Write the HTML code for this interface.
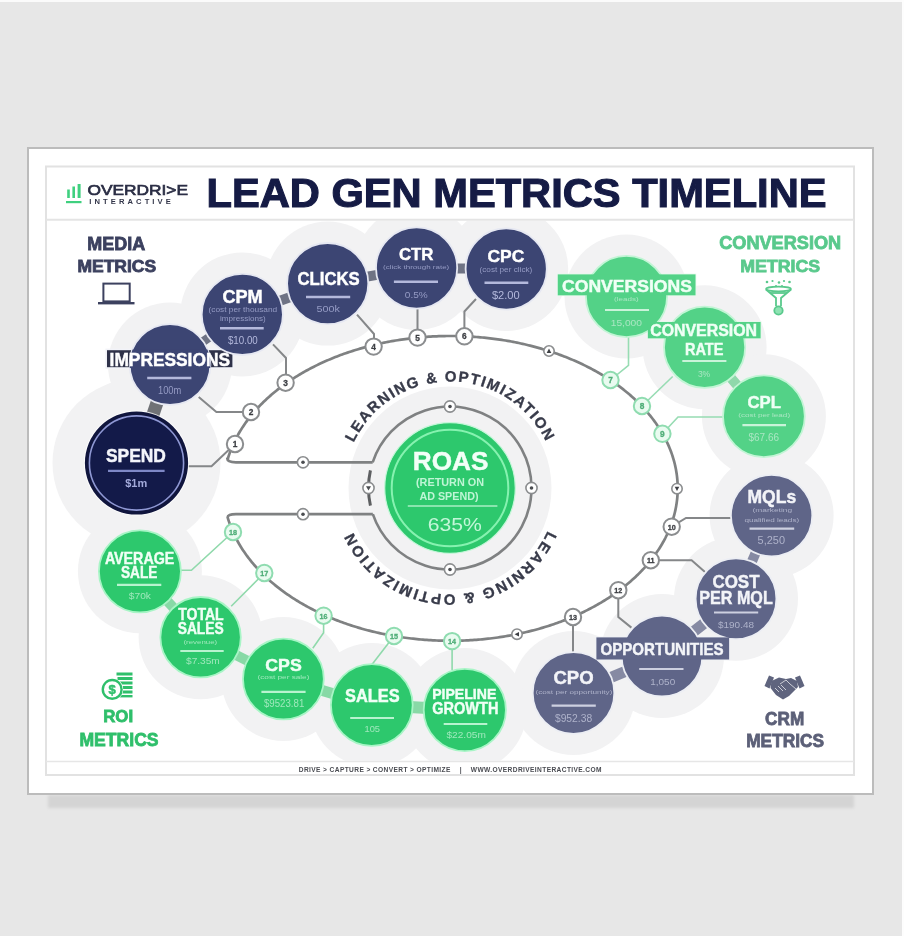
<!DOCTYPE html><html><head><meta charset="utf-8"><style>html,body{margin:0;padding:0;width:904px;height:936px;overflow:hidden;background:#e7e7e7}svg{filter:blur(0.45px)}svg text{font-family:"Liberation Sans",sans-serif}</style></head><body><svg width="904" height="936" viewBox="0 0 904 936" style="position:absolute;left:0;top:0">
<defs><filter id="blur1" x="-5%" y="-50%" width="110%" height="200%"><feGaussianBlur stdDeviation="1.5"/></filter><clipPath id="diag"><rect x="47" y="221" width="806" height="540"/></clipPath></defs>
<rect x="0" y="0" width="904" height="936" fill="#e7e7e7"/>
<rect x="0" y="0" width="904" height="2" fill="#fbfbfb"/>
<rect x="902" y="0" width="2" height="936" fill="#fdfdfd"/>
<rect x="48" y="795" width="806" height="13" fill="#d4d4d4" filter="url(#blur1)"/>
<rect x="28" y="148" width="845" height="646" fill="#ffffff" stroke="#bcbcbc" stroke-width="2"/>
<rect x="46" y="166.5" width="808" height="608.5" fill="#ffffff" stroke="#e2e2e2" stroke-width="2"/>
<line x1="46" y1="219.8" x2="854" y2="219.8" stroke="#e4e4e4" stroke-width="2"/>
<line x1="46" y1="761.5" x2="854" y2="761.5" stroke="#e6e6e6" stroke-width="1.5"/>
<g clip-path="url(#diag)" fill="#f2f2f3">
<circle cx="170" cy="364.5" r="62"/>
<circle cx="242.3" cy="314.4" r="62"/>
<circle cx="327.7" cy="283.6" r="62"/>
<circle cx="416.6" cy="268" r="62"/>
<circle cx="506.2" cy="269" r="62"/>
<circle cx="136.5" cy="463" r="84"/>
<circle cx="626.5" cy="296.5" r="62"/>
<circle cx="704.6" cy="347.3" r="62"/>
<circle cx="763.9" cy="416.3" r="62"/>
<circle cx="771.6" cy="515.6" r="62"/>
<circle cx="736" cy="598.8" r="62"/>
<circle cx="662" cy="656" r="62"/>
<circle cx="573.5" cy="693" r="62"/>
<circle cx="139.9" cy="571.3" r="62"/>
<circle cx="200.6" cy="637.2" r="62"/>
<circle cx="283.4" cy="679" r="62"/>
<circle cx="371.8" cy="705" r="62"/>
<circle cx="464.8" cy="710" r="62"/>
<circle cx="450" cy="488" r="101.5"/>
</g>
<line x1="152.0" y1="417.4" x2="158.1" y2="399.5" stroke="#707276" stroke-width="13"/>
<line x1="200.4" y1="343.4" x2="211.7" y2="335.6" stroke="#6f7384" stroke-width="9"/>
<line x1="277.3" y1="301.8" x2="292.7" y2="296.2" stroke="#6f7384" stroke-width="10"/>
<line x1="364.3" y1="277.2" x2="380.0" y2="274.4" stroke="#6f7384" stroke-width="10"/>
<line x1="453.8" y1="268.4" x2="469.0" y2="268.6" stroke="#6f7384" stroke-width="10"/>
<line x1="728.8" y1="375.5" x2="739.5" y2="387.9" stroke="#8fd8ab" stroke-width="10"/>
<line x1="756.9" y1="549.9" x2="750.6" y2="564.8" stroke="#868aa3" stroke-width="10"/>
<line x1="706.7" y1="621.4" x2="691.3" y2="633.4" stroke="#868aa3" stroke-width="11"/>
<line x1="627.9" y1="670.3" x2="608.0" y2="678.6" stroke="#868aa3" stroke-width="11"/>
<line x1="165.4" y1="599.0" x2="175.7" y2="610.1" stroke="#88d9a6" stroke-width="10"/>
<line x1="233.5" y1="653.8" x2="250.4" y2="662.3" stroke="#88d9a6" stroke-width="10"/>
<line x1="318.9" y1="689.4" x2="335.8" y2="694.4" stroke="#88d9a6" stroke-width="11"/>
<line x1="409.2" y1="707.0" x2="427.2" y2="708.0" stroke="#88d9a6" stroke-width="12"/>
<path d="M372.66,462.3 L236,462.3 Q227.3,462.3 227.3,458.6 L227.67,459.32 L228.06,458.02 L228.46,456.71 L228.88,455.41 L229.32,454.12 L229.77,452.82 L230.25,451.53 L230.73,450.24 L231.24,448.96 L231.76,447.67 L232.30,446.39 L232.85,445.12 L233.42,443.84 L234.01,442.57 L234.62,441.31 L235.24,440.04 L235.87,438.78 L236.53,437.53 L237.20,436.28 L237.88,435.03 L238.58,433.78 L239.30,432.55 L240.04,431.31 L240.79,430.08 L241.55,428.85 L242.34,427.63 L243.13,426.41 L243.95,425.20 L244.78,423.99 L245.62,422.79 L246.48,421.59 L247.36,420.40 L248.25,419.21 L249.16,418.03 L250.08,416.85 L251.02,415.68 L251.97,414.52 L252.94,413.35 L253.93,412.20 L254.92,411.05 L255.94,409.91 L256.97,408.77 L258.01,407.64 L259.07,406.52 L260.14,405.40 L261.22,404.28 L262.33,403.18 L263.44,402.08 L264.57,400.99 L265.71,399.90 L266.87,398.82 L268.04,397.75 L269.23,396.68 L270.43,395.62 L271.64,394.57 L272.87,393.53 L274.11,392.49 L275.36,391.46 L276.63,390.44 L277.91,389.42 L279.21,388.42 L280.51,387.42 L281.83,386.42 L283.16,385.44 L284.51,384.46 L285.87,383.49 L287.24,382.53 L288.62,381.58 L290.02,380.64 L291.42,379.70 L292.84,378.77 L294.27,377.85 L295.72,376.94 L297.17,376.04 L298.64,375.14 L300.12,374.26 L301.61,373.38 L303.11,372.51 L304.62,371.65 L306.15,370.80 L307.68,369.96 L309.23,369.13 L310.78,368.31 L312.35,367.49 L313.93,366.69 L315.52,365.89 L317.11,365.11 L318.72,364.33 L320.34,363.56 L321.97,362.80 L323.61,362.05 L325.26,361.32 L326.91,360.59 L328.58,359.87 L330.26,359.16 L331.94,358.46 L333.63,357.77 L335.34,357.09 L337.05,356.42 L338.77,355.76 L340.50,355.11 L342.24,354.47 L343.98,353.84 L345.74,353.22 L347.50,352.61 L349.27,352.01 L351.05,351.42 L352.83,350.85 L354.62,350.28 L356.42,349.72 L358.23,349.18 L360.04,348.64 L361.86,348.12 L363.69,347.60 L365.53,347.10 L367.37,346.60 L369.21,346.12 L371.07,345.65 L372.93,345.19 L374.79,344.74 L376.66,344.30 L378.54,343.88 L380.42,343.46 L382.31,343.05 L384.20,342.66 L386.10,342.28 L388.00,341.90 L389.91,341.54 L391.82,341.19 L393.74,340.85 L395.66,340.53 L397.58,340.21 L399.51,339.91 L401.45,339.61 L403.38,339.33 L405.32,339.06 L407.27,338.80 L409.21,338.55 L411.16,338.32 L413.12,338.09 L415.07,337.88 L417.03,337.67 L418.99,337.48 L420.96,337.30 L422.92,337.14 L424.89,336.98 L426.86,336.83 L428.83,336.70 L430.81,336.58 L432.78,336.47 L434.76,336.37 L436.74,336.28 L438.71,336.21 L440.69,336.15 L442.67,336.09 L444.66,336.05 L446.64,336.02 L448.62,336.01 L450.60,336.00 L452.58,336.01 L454.56,336.02 L456.54,336.05 L458.53,336.09 L460.51,336.15 L462.49,336.21 L464.46,336.28 L466.44,336.37 L468.42,336.47 L470.39,336.58 L472.37,336.70 L474.34,336.83 L476.31,336.98 L478.28,337.14 L480.24,337.30 L482.21,337.48 L484.17,337.67 L486.13,337.88 L488.08,338.09 L490.04,338.32 L491.99,338.55 L493.93,338.80 L495.88,339.06 L497.82,339.33 L499.75,339.61 L501.69,339.91 L503.62,340.21 L505.54,340.53 L507.46,340.85 L509.38,341.19 L511.29,341.54 L513.20,341.90 L515.10,342.28 L517.00,342.66 L518.89,343.05 L520.78,343.46 L522.66,343.88 L524.54,344.30 L526.41,344.74 L528.27,345.19 L530.13,345.65 L531.99,346.12 L533.83,346.60 L535.67,347.10 L537.51,347.60 L539.34,348.12 L541.16,348.64 L542.97,349.18 L544.78,349.72 L546.58,350.28 L548.37,350.85 L550.15,351.42 L551.93,352.01 L553.70,352.61 L555.46,353.22 L557.22,353.84 L558.96,354.47 L560.70,355.11 L562.43,355.76 L564.15,356.42 L565.86,357.09 L567.57,357.77 L569.26,358.46 L570.94,359.16 L572.62,359.87 L574.29,360.59 L575.94,361.32 L577.59,362.05 L579.23,362.80 L580.86,363.56 L582.48,364.33 L584.09,365.11 L585.68,365.89 L587.27,366.69 L588.85,367.49 L590.42,368.31 L591.97,369.13 L593.52,369.96 L595.05,370.80 L596.58,371.65 L598.09,372.51 L599.59,373.38 L601.08,374.26 L602.56,375.14 L604.03,376.04 L605.48,376.94 L606.93,377.85 L608.36,378.77 L609.78,379.70 L611.18,380.64 L612.58,381.58 L613.96,382.53 L615.33,383.49 L616.69,384.46 L618.04,385.44 L619.37,386.42 L620.69,387.42 L621.99,388.42 L623.29,389.42 L624.57,390.44 L625.84,391.46 L627.09,392.49 L628.33,393.53 L629.56,394.57 L630.77,395.62 L631.97,396.68 L633.16,397.75 L634.33,398.82 L635.49,399.90 L636.63,400.99 L637.76,402.08 L638.87,403.18 L639.98,404.28 L641.06,405.40 L642.13,406.52 L643.19,407.64 L644.23,408.77 L645.26,409.91 L646.28,411.05 L647.27,412.20 L648.26,413.35 L649.23,414.52 L650.18,415.68 L651.12,416.85 L652.04,418.03 L652.95,419.21 L653.84,420.40 L654.72,421.59 L655.58,422.79 L656.42,423.99 L657.25,425.20 L658.07,426.41 L658.86,427.63 L659.65,428.85 L660.41,430.08 L661.16,431.31 L661.90,432.55 L662.62,433.78 L663.32,435.03 L664.00,436.28 L664.67,437.53 L665.33,438.78 L665.96,440.04 L666.58,441.31 L667.19,442.57 L667.78,443.84 L668.35,445.12 L668.90,446.39 L669.44,447.67 L669.96,448.96 L670.47,450.24 L670.95,451.53 L671.43,452.82 L671.88,454.12 L672.32,455.41 L672.74,456.71 L673.14,458.02 L673.53,459.32 L673.90,460.63 L674.25,461.94 L674.59,463.25 L674.90,464.56 L675.21,465.87 L675.49,467.19 L675.76,468.51 L676.01,469.83 L676.24,471.15 L676.46,472.47 L676.65,473.79 L676.84,475.12 L677.00,476.44 L677.15,477.77 L677.28,479.10 L677.39,480.42 L677.48,481.75 L677.56,483.08 L677.62,484.41 L677.67,485.74 L677.69,487.07 L677.70,488.40 L677.69,489.73 L677.67,491.06 L677.62,492.39 L677.56,493.72 L677.48,495.05 L677.39,496.38 L677.28,497.70 L677.15,499.03 L677.00,500.36 L676.84,501.68 L676.65,503.01 L676.46,504.33 L676.24,505.65 L676.01,506.97 L675.76,508.29 L675.49,509.61 L675.21,510.93 L674.90,512.24 L674.59,513.55 L674.25,514.86 L673.90,516.17 L673.53,517.48 L673.14,518.78 L672.74,520.09 L672.32,521.39 L671.88,522.68 L671.43,523.98 L670.95,525.27 L670.47,526.56 L669.96,527.84 L669.44,529.13 L668.90,530.41 L668.35,531.68 L667.78,532.96 L667.19,534.23 L666.58,535.49 L665.96,536.76 L665.33,538.02 L664.67,539.27 L664.00,540.52 L663.32,541.77 L662.62,543.02 L661.90,544.25 L661.16,545.49 L660.41,546.72 L659.65,547.95 L658.86,549.17 L658.07,550.39 L657.25,551.60 L656.42,552.81 L655.58,554.01 L654.72,555.21 L653.84,556.40 L652.95,557.59 L652.04,558.77 L651.12,559.95 L650.18,561.12 L649.23,562.28 L648.26,563.45 L647.27,564.60 L646.28,565.75 L645.26,566.89 L644.23,568.03 L643.19,569.16 L642.13,570.28 L641.06,571.40 L639.98,572.52 L638.87,573.62 L637.76,574.72 L636.63,575.81 L635.49,576.90 L634.33,577.98 L633.16,579.05 L631.97,580.12 L630.77,581.18 L629.56,582.23 L628.33,583.27 L627.09,584.31 L625.84,585.34 L624.57,586.36 L623.29,587.38 L621.99,588.38 L620.69,589.38 L619.37,590.38 L618.04,591.36 L616.69,592.34 L615.33,593.31 L613.96,594.27 L612.58,595.22 L611.18,596.16 L609.78,597.10 L608.36,598.03 L606.93,598.95 L605.48,599.86 L604.03,600.76 L602.56,601.66 L601.08,602.54 L599.59,603.42 L598.09,604.29 L596.58,605.15 L595.05,606.00 L593.52,606.84 L591.97,607.67 L590.42,608.49 L588.85,609.31 L587.27,610.11 L585.68,610.91 L584.09,611.69 L582.48,612.47 L580.86,613.24 L579.23,614.00 L577.59,614.75 L575.94,615.48 L574.29,616.21 L572.62,616.93 L570.94,617.64 L569.26,618.34 L567.57,619.03 L565.86,619.71 L564.15,620.38 L562.43,621.04 L560.70,621.69 L558.96,622.33 L557.22,622.96 L555.46,623.58 L553.70,624.19 L551.93,624.79 L550.15,625.38 L548.37,625.95 L546.58,626.52 L544.78,627.08 L542.97,627.62 L541.16,628.16 L539.34,628.68 L537.51,629.20 L535.67,629.70 L533.83,630.20 L531.99,630.68 L530.13,631.15 L528.27,631.61 L526.41,632.06 L524.54,632.50 L522.66,632.92 L520.78,633.34 L518.89,633.75 L517.00,634.14 L515.10,634.52 L513.20,634.90 L511.29,635.26 L509.38,635.61 L507.46,635.95 L505.54,636.27 L503.62,636.59 L501.69,636.89 L499.75,637.19 L497.82,637.47 L495.88,637.74 L493.93,638.00 L491.99,638.25 L490.04,638.48 L488.08,638.71 L486.13,638.92 L484.17,639.13 L482.21,639.32 L480.24,639.50 L478.28,639.66 L476.31,639.82 L474.34,639.97 L472.37,640.10 L470.39,640.22 L468.42,640.33 L466.44,640.43 L464.46,640.52 L462.49,640.59 L460.51,640.65 L458.53,640.71 L456.54,640.75 L454.56,640.78 L452.58,640.79 L450.60,640.80 L448.62,640.79 L446.64,640.78 L444.66,640.75 L442.67,640.71 L440.69,640.65 L438.71,640.59 L436.74,640.52 L434.76,640.43 L432.78,640.33 L430.81,640.22 L428.83,640.10 L426.86,639.97 L424.89,639.82 L422.92,639.66 L420.96,639.50 L418.99,639.32 L417.03,639.13 L415.07,638.92 L413.12,638.71 L411.16,638.48 L409.21,638.25 L407.27,638.00 L405.32,637.74 L403.38,637.47 L401.45,637.19 L399.51,636.89 L397.58,636.59 L395.66,636.27 L393.74,635.95 L391.82,635.61 L389.91,635.26 L388.00,634.90 L386.10,634.52 L384.20,634.14 L382.31,633.75 L380.42,633.34 L378.54,632.92 L376.66,632.50 L374.79,632.06 L372.93,631.61 L371.07,631.15 L369.21,630.68 L367.37,630.20 L365.53,629.70 L363.69,629.20 L361.86,628.68 L360.04,628.16 L358.23,627.62 L356.42,627.08 L354.62,626.52 L352.83,625.95 L351.05,625.38 L349.27,624.79 L347.50,624.19 L345.74,623.58 L343.98,622.96 L342.24,622.33 L340.50,621.69 L338.77,621.04 L337.05,620.38 L335.34,619.71 L333.63,619.03 L331.94,618.34 L330.26,617.64 L328.58,616.93 L326.91,616.21 L325.26,615.48 L323.61,614.75 L321.97,614.00 L320.34,613.24 L318.72,612.47 L317.11,611.69 L315.52,610.91 L313.93,610.11 L312.35,609.31 L310.78,608.49 L309.23,607.67 L307.68,606.84 L306.15,606.00 L304.62,605.15 L303.11,604.29 L301.61,603.42 L300.12,602.54 L298.64,601.66 L297.17,600.76 L295.72,599.86 L294.27,598.95 L292.84,598.03 L291.42,597.10 L290.02,596.16 L288.62,595.22 L287.24,594.27 L285.87,593.31 L284.51,592.34 L283.16,591.36 L281.83,590.38 L280.51,589.38 L279.21,588.38 L277.91,587.38 L276.63,586.36 L275.36,585.34 L274.11,584.31 L272.87,583.27 L271.64,582.23 L270.43,581.18 L269.23,580.12 L268.04,579.05 L266.87,577.98 L265.71,576.90 L264.57,575.81 L263.44,574.72 L262.33,573.62 L261.22,572.52 L260.14,571.40 L259.07,570.28 L258.01,569.16 L256.97,568.03 L255.94,566.89 L254.92,565.75 L253.93,564.60 L252.94,563.45 L251.97,562.28 L251.02,561.12 L250.08,559.95 L249.16,558.77 L248.25,557.59 L247.36,556.40 L246.48,555.21 L245.62,554.01 L244.78,552.81 L243.95,551.60 L243.13,550.39 L242.34,549.17 L241.55,547.95 L240.79,546.72 L240.04,545.49 L239.30,544.25 L238.58,543.02 L237.88,541.77 L237.20,540.52 L236.53,539.27 L235.87,538.02 L235.24,536.76 L234.62,535.49 L234.01,534.23 L233.42,532.96 L232.85,531.68 L232.30,530.41 L231.76,529.13 L231.24,527.84 L230.73,526.56 L230.25,525.27 L229.77,523.98 L229.32,522.68 L228.88,521.39 L228.46,520.09 L228.06,518.78 L227.67,517.48 Q227.3,514.2 236,514.2 L372.83,514.2" fill="none" stroke="#7f8182" stroke-width="2.7" stroke-linejoin="round"/>
<path d="M372.66,462.30 A81.5,81.5 0 1,1 372.83,514.20" fill="none" stroke="#7f8182" stroke-width="2.6"/>
<path d="M370.43,470.36 A81.5,81.5 0 0,0 370.43,505.64" fill="none" stroke="#5d5f61" stroke-width="3"/>
<polyline points="186.0,466.3 211.5,466.3 235.0,444.0" fill="none" stroke="#858789" stroke-width="2"/>
<polyline points="198.7,397.0 216.4,412.0 251.0,412.0" fill="none" stroke="#858789" stroke-width="2"/>
<polyline points="273.0,344.4 286.0,358.0 286.0,382.7" fill="none" stroke="#858789" stroke-width="2"/>
<polyline points="357.0,314.6 374.0,334.0 374.0,346.6" fill="none" stroke="#858789" stroke-width="2"/>
<polyline points="417.5,308.0 417.5,337.6" fill="none" stroke="#858789" stroke-width="2"/>
<polyline points="476.0,299.0 464.4,311.5 464.4,336.3" fill="none" stroke="#858789" stroke-width="2"/>
<polyline points="628.5,336.0 628.5,365.4 610.5,380.0" fill="none" stroke="#97dcb3" stroke-width="1.6"/>
<polyline points="672.7,376.5 642.0,406.0" fill="none" stroke="#97dcb3" stroke-width="1.6"/>
<polyline points="724.0,417.0 678.0,417.0 662.4,433.8" fill="none" stroke="#97dcb3" stroke-width="1.6"/>
<polyline points="732.0,518.0 686.0,518.0 671.7,526.7" fill="none" stroke="#858789" stroke-width="2"/>
<polyline points="650.8,560.3 691.6,560.3 705.0,572.0" fill="none" stroke="#858789" stroke-width="2"/>
<polyline points="618.3,590.2 618.3,617.0 631.4,627.6" fill="none" stroke="#858789" stroke-width="2"/>
<polyline points="573.0,617.0 573.0,653.0" fill="none" stroke="#858789" stroke-width="2"/>
<polyline points="452.1,641.1 452.1,670.0" fill="none" stroke="#8fd9ab" stroke-width="1.6"/>
<polyline points="394.0,636.0 371.6,665.0" fill="none" stroke="#8fd9ab" stroke-width="1.6"/>
<polyline points="323.6,615.7 323.6,632.8 312.8,648.3" fill="none" stroke="#8fd9ab" stroke-width="1.6"/>
<polyline points="264.3,573.0 231.2,606.2" fill="none" stroke="#8fd9ab" stroke-width="1.6"/>
<polyline points="233.0,532.0 191.4,570.3 180.8,570.3" fill="none" stroke="#8fd9ab" stroke-width="1.6"/>
<circle cx="235" cy="444" r="8.2" fill="#ffffff" stroke="#8b8d8f" stroke-width="2"/>
<text x="235" y="446.9" font-size="8.3" font-weight="bold" fill="#3d3f44" stroke="#3d3f44" stroke-width="0.3" text-anchor="middle">1</text>
<circle cx="251" cy="412" r="8.2" fill="#ffffff" stroke="#8b8d8f" stroke-width="2"/>
<text x="251" y="414.9" font-size="8.3" font-weight="bold" fill="#3d3f44" stroke="#3d3f44" stroke-width="0.3" text-anchor="middle">2</text>
<circle cx="285.6" cy="382.7" r="8.2" fill="#ffffff" stroke="#8b8d8f" stroke-width="2"/>
<text x="285.6" y="385.6" font-size="8.3" font-weight="bold" fill="#3d3f44" stroke="#3d3f44" stroke-width="0.3" text-anchor="middle">3</text>
<circle cx="373.6" cy="346.6" r="8.2" fill="#ffffff" stroke="#8b8d8f" stroke-width="2"/>
<text x="373.6" y="349.5" font-size="8.3" font-weight="bold" fill="#3d3f44" stroke="#3d3f44" stroke-width="0.3" text-anchor="middle">4</text>
<circle cx="417.5" cy="337.6" r="8.2" fill="#ffffff" stroke="#8b8d8f" stroke-width="2"/>
<text x="417.5" y="340.5" font-size="8.3" font-weight="bold" fill="#3d3f44" stroke="#3d3f44" stroke-width="0.3" text-anchor="middle">5</text>
<circle cx="464.4" cy="336.3" r="8.2" fill="#ffffff" stroke="#8b8d8f" stroke-width="2"/>
<text x="464.4" y="339.2" font-size="8.3" font-weight="bold" fill="#3d3f44" stroke="#3d3f44" stroke-width="0.3" text-anchor="middle">6</text>
<circle cx="549" cy="351" r="5.2" fill="#ffffff" stroke="#8b8d8f" stroke-width="1.6"/>
<path d="M546.7,353 L549,348.6 L551.3,353 Z" fill="#3d3f44"/>
<circle cx="610.5" cy="380" r="8.2" fill="#e9fbf0" stroke="#8fdcb0" stroke-width="2"/>
<text x="610.5" y="382.9" font-size="8.3" font-weight="bold" fill="#4fae78" stroke="#4fae78" stroke-width="0.3" text-anchor="middle">7</text>
<circle cx="642" cy="406" r="8.2" fill="#e9fbf0" stroke="#8fdcb0" stroke-width="2"/>
<text x="642" y="408.9" font-size="8.3" font-weight="bold" fill="#4fae78" stroke="#4fae78" stroke-width="0.3" text-anchor="middle">8</text>
<circle cx="662.4" cy="433.8" r="8.2" fill="#e9fbf0" stroke="#8fdcb0" stroke-width="2"/>
<text x="662.4" y="436.7" font-size="8.3" font-weight="bold" fill="#4fae78" stroke="#4fae78" stroke-width="0.3" text-anchor="middle">9</text>
<circle cx="677" cy="488.7" r="5.2" fill="#ffffff" stroke="#8b8d8f" stroke-width="1.6"/>
<path d="M674.7,486.7 L679.3,486.7 L677,491.09999999999997 Z" fill="#3d3f44"/>
<circle cx="671.7" cy="526.7" r="8.2" fill="#ffffff" stroke="#8b8d8f" stroke-width="2"/>
<text x="671.7" y="529.6" font-size="7.2" font-weight="bold" fill="#3d3f44" stroke="#3d3f44" stroke-width="0.3" text-anchor="middle">10</text>
<circle cx="650.8" cy="560.2" r="8.2" fill="#ffffff" stroke="#8b8d8f" stroke-width="2"/>
<text x="650.8" y="563.1" font-size="7.2" font-weight="bold" fill="#3d3f44" stroke="#3d3f44" stroke-width="0.3" text-anchor="middle">11</text>
<circle cx="618.3" cy="590.2" r="8.2" fill="#ffffff" stroke="#8b8d8f" stroke-width="2"/>
<text x="618.3" y="593.1" font-size="7.2" font-weight="bold" fill="#3d3f44" stroke="#3d3f44" stroke-width="0.3" text-anchor="middle">12</text>
<circle cx="573" cy="617" r="8.2" fill="#ffffff" stroke="#8b8d8f" stroke-width="2"/>
<text x="573" y="619.9" font-size="7.2" font-weight="bold" fill="#3d3f44" stroke="#3d3f44" stroke-width="0.3" text-anchor="middle">13</text>
<circle cx="517" cy="634.2" r="5.2" fill="#ffffff" stroke="#8b8d8f" stroke-width="1.6"/>
<path d="M519,631.9000000000001 L519,636.5 L514.6,634.2 Z" fill="#3d3f44"/>
<circle cx="452.1" cy="641.1" r="8.2" fill="#e9fbf0" stroke="#8fdcb0" stroke-width="2"/>
<text x="452.1" y="644.0" font-size="7.2" font-weight="bold" fill="#4fae78" stroke="#4fae78" stroke-width="0.3" text-anchor="middle">14</text>
<circle cx="394" cy="636" r="8.2" fill="#e9fbf0" stroke="#8fdcb0" stroke-width="2"/>
<text x="394" y="638.9" font-size="7.2" font-weight="bold" fill="#4fae78" stroke="#4fae78" stroke-width="0.3" text-anchor="middle">15</text>
<circle cx="323.6" cy="615.7" r="8.2" fill="#e9fbf0" stroke="#8fdcb0" stroke-width="2"/>
<text x="323.6" y="618.6" font-size="7.2" font-weight="bold" fill="#4fae78" stroke="#4fae78" stroke-width="0.3" text-anchor="middle">16</text>
<circle cx="264.3" cy="573" r="8.2" fill="#e9fbf0" stroke="#8fdcb0" stroke-width="2"/>
<text x="264.3" y="575.9" font-size="7.2" font-weight="bold" fill="#4fae78" stroke="#4fae78" stroke-width="0.3" text-anchor="middle">17</text>
<circle cx="233" cy="532" r="8.2" fill="#e9fbf0" stroke="#8fdcb0" stroke-width="2"/>
<text x="233" y="534.9" font-size="7.2" font-weight="bold" fill="#4fae78" stroke="#4fae78" stroke-width="0.3" text-anchor="middle">18</text>
<circle cx="450" cy="406.5" r="5.6" fill="#ffffff" stroke="#8b8d8f" stroke-width="1.6"/>
<circle cx="450" cy="406.5" r="1.8" fill="#4a4c50"/>
<circle cx="450" cy="569.5" r="5.6" fill="#ffffff" stroke="#8b8d8f" stroke-width="1.6"/>
<circle cx="450" cy="569.5" r="1.8" fill="#4a4c50"/>
<circle cx="531.5" cy="488" r="5.6" fill="#ffffff" stroke="#8b8d8f" stroke-width="1.6"/>
<circle cx="531.5" cy="488" r="1.8" fill="#4a4c50"/>
<circle cx="368.5" cy="488" r="5.6" fill="#ffffff" stroke="#8b8d8f" stroke-width="1.6"/>
<path d="M366.0,486.2 L371.0,486.2 L368.5,490.5 Z" fill="#4a4c50"/>
<circle cx="303" cy="462.3" r="5.6" fill="#ffffff" stroke="#8b8d8f" stroke-width="1.6"/>
<circle cx="303" cy="462.3" r="1.8" fill="#4a4c50"/>
<circle cx="303" cy="514.2" r="5.6" fill="#ffffff" stroke="#8b8d8f" stroke-width="1.6"/>
<circle cx="303" cy="514.2" r="1.8" fill="#4a4c50"/>
<rect x="106.2" y="349.4" width="127" height="18.6" fill="#2f3249" stroke="#f2f3f8" stroke-width="1.6"/>
<rect x="557.8" y="274.4" width="137.7" height="20.9" fill="#53d287" stroke="#e3f9ea" stroke-width="1.6"/>
<rect x="647.9" y="322" width="112.7" height="16.3" fill="#53d287" stroke="#e3f9ea" stroke-width="1.6"/>
<rect x="596.4" y="637.4" width="132.7" height="22.1" fill="#5f6588" stroke="#eef0f5" stroke-width="1.6"/>
<circle cx="170" cy="364.5" r="40.4" fill="#3c4573" stroke="#e6e8f2" stroke-width="1.8"/>
<circle cx="242.3" cy="314.4" r="40.6" fill="#3c4573" stroke="#e6e8f2" stroke-width="1.8"/>
<circle cx="327.7" cy="283.6" r="40.6" fill="#3c4573" stroke="#e6e8f2" stroke-width="1.8"/>
<circle cx="416.6" cy="268" r="40.6" fill="#3c4573" stroke="#e6e8f2" stroke-width="1.8"/>
<circle cx="506.2" cy="269" r="40.6" fill="#3c4573" stroke="#e6e8f2" stroke-width="1.8"/>
<circle cx="136.5" cy="463" r="52.6" fill="#ffffff" opacity="0.8"/>
<circle cx="136.5" cy="463" r="51.6" fill="#10153d"/>
<circle cx="136.5" cy="463" r="47.1" fill="#131a49" stroke="#8f98d4" stroke-width="1.6"/>
<circle cx="626.5" cy="296.5" r="40.6" fill="#53d287" stroke="#c2f5d5" stroke-width="1.8"/>
<circle cx="704.6" cy="347.3" r="40.6" fill="#53d287" stroke="#c2f5d5" stroke-width="1.8"/>
<circle cx="763.9" cy="416.3" r="40.9" fill="#53d287" stroke="#c2f5d5" stroke-width="1.8"/>
<circle cx="771.6" cy="515.6" r="40.699999999999996" fill="#5f6588" stroke="#eceef4" stroke-width="1.8"/>
<circle cx="736" cy="598.8" r="40.4" fill="#5f6588" stroke="#eceef4" stroke-width="1.8"/>
<circle cx="662" cy="656" r="40.4" fill="#5f6588" stroke="#eceef4" stroke-width="1.8"/>
<circle cx="573.5" cy="693" r="40.8" fill="#5f6588" stroke="#eceef4" stroke-width="1.8"/>
<circle cx="139.9" cy="571.3" r="41.0" fill="#2dc86d" stroke="#a8f5c6" stroke-width="1.8"/>
<circle cx="200.6" cy="637.2" r="40.199999999999996" fill="#2dc86d" stroke="#a8f5c6" stroke-width="1.8"/>
<circle cx="283.4" cy="679" r="40.4" fill="#2dc86d" stroke="#a8f5c6" stroke-width="1.8"/>
<circle cx="371.8" cy="705" r="40.9" fill="#2dc86d" stroke="#a8f5c6" stroke-width="1.8"/>
<circle cx="464.8" cy="710" r="41.1" fill="#2dc86d" stroke="#a8f5c6" stroke-width="1.8"/>
<defs><clipPath id="impbox"><rect x="106.2" y="349.4" width="127" height="18.6"/></clipPath></defs>
<circle cx="170" cy="364.5" r="40.4" fill="#3c4573" clip-path="url(#impbox)"/>
<rect x="557.8" y="274.4" width="137.7" height="20.9" fill="#53d287"/>
<rect x="647.9" y="322" width="112.7" height="16.3" fill="#53d287"/>
<rect x="596.4" y="637.4" width="132.7" height="22.1" fill="#5f6588"/>
<circle cx="450" cy="488" r="65.3" fill="#2dc86d" stroke="#c5f7d9" stroke-width="1.2"/>
<circle cx="450" cy="488" r="58.3" fill="none" stroke="#86f2b0" stroke-width="2"/>
<text x="109.6" y="365.7" font-size="17.71" font-weight="bold" fill="#ffffff" textLength="120.4" lengthAdjust="spacingAndGlyphs" stroke="#ffffff" stroke-width="0.45">IMPRESSIONS</text>
<line x1="147.2" y1="378.0" x2="191.4" y2="378.0" stroke="#b4b9dc" stroke-width="2.6"/>
<text x="158.0" y="393.6" font-size="10.00" font-weight="normal" fill="#959bc4" textLength="23.3" lengthAdjust="spacingAndGlyphs" >100m</text>
<text x="222.4" y="302.9" font-size="18.57" font-weight="bold" fill="#ffffff" textLength="40.3" lengthAdjust="spacingAndGlyphs" stroke="#ffffff" stroke-width="0.45">CPM</text>
<text x="208.5" y="312.4" font-size="6.84" font-weight="normal" fill="#959bc4" textLength="68.7" lengthAdjust="spacingAndGlyphs">(cost per thousand</text>
<text x="220.0" y="321.4" font-size="6.84" font-weight="normal" fill="#959bc4" textLength="45.7" lengthAdjust="spacingAndGlyphs">impressions)</text>
<line x1="220.0" y1="328.3" x2="263.7" y2="328.3" stroke="#b4b9dc" stroke-width="2.4"/>
<text x="227.9" y="343.7" font-size="10.90" font-weight="normal" fill="#b4b9dc" textLength="29.9" lengthAdjust="spacingAndGlyphs" >$10.00</text>
<text x="297.5" y="284.8" font-size="17.71" font-weight="bold" fill="#ffffff" textLength="62.2" lengthAdjust="spacingAndGlyphs" stroke="#ffffff" stroke-width="0.45">CLICKS</text>
<line x1="306.0" y1="297.0" x2="350.2" y2="297.0" stroke="#b4b9dc" stroke-width="2.6"/>
<text x="316.4" y="311.7" font-size="9.62" font-weight="normal" fill="#959bc4" textLength="23.4" lengthAdjust="spacingAndGlyphs" >500k</text>
<text x="398.9" y="259.5" font-size="17.00" font-weight="bold" fill="#ffffff" textLength="34.4" lengthAdjust="spacingAndGlyphs" stroke="#ffffff" stroke-width="0.45">CTR</text>
<text x="383.0" y="269.2" font-size="5.89" font-weight="normal" fill="#959bc4" textLength="66.3" lengthAdjust="spacingAndGlyphs">(click through rate)</text>
<line x1="393.9" y1="281.7" x2="438.0" y2="281.7" stroke="#b4b9dc" stroke-width="2.4"/>
<text x="404.8" y="297.7" font-size="8.97" font-weight="normal" fill="#959bc4" textLength="22.9" lengthAdjust="spacingAndGlyphs" >0.5%</text>
<text x="487.5" y="261.8" font-size="17.00" font-weight="bold" fill="#ffffff" textLength="36.8" lengthAdjust="spacingAndGlyphs" stroke="#ffffff" stroke-width="0.45">CPC</text>
<text x="479.5" y="271.5" font-size="6.63" font-weight="normal" fill="#959bc4" textLength="52.8" lengthAdjust="spacingAndGlyphs">(cost per click)</text>
<line x1="484.5" y1="282.7" x2="528.3" y2="282.7" stroke="#b4b9dc" stroke-width="2.4"/>
<text x="491.9" y="298.7" font-size="10.26" font-weight="normal" fill="#b4b9dc" textLength="27.8" lengthAdjust="spacingAndGlyphs" >$2.00</text>
<text x="106.0" y="461.6" font-size="18.14" font-weight="bold" fill="#f4f5fb" textLength="59.9" lengthAdjust="spacingAndGlyphs" stroke="#f4f5fb" stroke-width="0.45">SPEND</text>
<line x1="108.0" y1="470.9" x2="164.6" y2="470.9" stroke="#7e88c6" stroke-width="2.2"/>
<text x="125.2" y="487.0" font-size="11.71" font-weight="bold" fill="#a3aada" textLength="22.0" lengthAdjust="spacingAndGlyphs" >$1m</text>
<text x="562.0" y="291.8" font-size="17.29" font-weight="bold" fill="#effff5" textLength="130.0" lengthAdjust="spacingAndGlyphs" stroke="#effff5" stroke-width="0.45">CONVERSIONS</text>
<text x="614.0" y="301.3" font-size="5.00" font-weight="normal" fill="#a9e6c2" textLength="24.6" lengthAdjust="spacingAndGlyphs">(leads)</text>
<line x1="605.0" y1="310.0" x2="649.0" y2="310.0" stroke="#c9f3d9" stroke-width="2.2"/>
<text x="610.7" y="325.5" font-size="8.97" font-weight="normal" fill="#a9e6c2" textLength="31.3" lengthAdjust="spacingAndGlyphs" >15,000</text>
<text x="650.2" y="336.0" font-size="16.00" font-weight="bold" fill="#effff5" textLength="106.8" lengthAdjust="spacingAndGlyphs" stroke="#effff5" stroke-width="0.45">CONVERSION</text>
<text x="685.0" y="354.5" font-size="16.43" font-weight="bold" fill="#effff5" textLength="38.4" lengthAdjust="spacingAndGlyphs" stroke="#effff5" stroke-width="0.45">RATE</text>
<line x1="682.3" y1="361.0" x2="726.4" y2="361.0" stroke="#c9f3d9" stroke-width="2.2"/>
<text x="697.9" y="376.6" font-size="8.97" font-weight="normal" fill="#a9e6c2" textLength="12.3" lengthAdjust="spacingAndGlyphs" >3%</text>
<text x="747.5" y="407.5" font-size="17.29" font-weight="bold" fill="#effff5" textLength="33.5" lengthAdjust="spacingAndGlyphs" stroke="#effff5" stroke-width="0.45">CPL</text>
<text x="738.3" y="416.6" font-size="5.68" font-weight="normal" fill="#a9e6c2" textLength="51.8" lengthAdjust="spacingAndGlyphs">(cost per lead)</text>
<line x1="742.4" y1="425.2" x2="786.0" y2="425.2" stroke="#c9f3d9" stroke-width="2.2"/>
<text x="748.5" y="441.0" font-size="10.38" font-weight="normal" fill="#a9e6c2" textLength="30.5" lengthAdjust="spacingAndGlyphs" >$67.66</text>
<text x="747.5" y="503.0" font-size="17.43" font-weight="bold" fill="#f3f4f8" textLength="48.7" lengthAdjust="spacingAndGlyphs" stroke="#f3f4f8" stroke-width="0.45">MQLs</text>
<text x="752.5" y="512.0" font-size="5.58" font-weight="normal" fill="#aeb2ca" textLength="39.6" lengthAdjust="spacingAndGlyphs">(marketing</text>
<text x="744.4" y="522.0" font-size="6.00" font-weight="normal" fill="#aeb2ca" textLength="54.8" lengthAdjust="spacingAndGlyphs">qualified leads)</text>
<line x1="749.5" y1="528.7" x2="794.2" y2="528.7" stroke="#cdd0e0" stroke-width="2.2"/>
<text x="757.6" y="543.5" font-size="10.38" font-weight="normal" fill="#aeb2ca" textLength="27.4" lengthAdjust="spacingAndGlyphs" >5,250</text>
<text x="712.5" y="588.2" font-size="17.86" font-weight="bold" fill="#f3f4f8" textLength="47.0" lengthAdjust="spacingAndGlyphs" stroke="#f3f4f8" stroke-width="0.45">COST</text>
<text x="699.2" y="604.2" font-size="18.86" font-weight="bold" fill="#f3f4f8" textLength="73.6" lengthAdjust="spacingAndGlyphs" stroke="#f3f4f8" stroke-width="0.45">PER MQL</text>
<line x1="714.0" y1="612.5" x2="758.2" y2="612.5" stroke="#cdd0e0" stroke-width="2.2"/>
<text x="718.0" y="628.3" font-size="9.62" font-weight="normal" fill="#aeb2ca" textLength="36.0" lengthAdjust="spacingAndGlyphs" >$190.48</text>
<text x="600.5" y="654.6" font-size="16.57" font-weight="bold" fill="#f3f4f8" textLength="123.1" lengthAdjust="spacingAndGlyphs" stroke="#f3f4f8" stroke-width="0.45">OPPORTUNITIES</text>
<line x1="639.2" y1="669.0" x2="683.5" y2="669.0" stroke="#cdd0e0" stroke-width="2.2"/>
<text x="650.3" y="685.0" font-size="8.97" font-weight="normal" fill="#aeb2ca" textLength="24.9" lengthAdjust="spacingAndGlyphs" >1,050</text>
<text x="553.5" y="684.4" font-size="18.86" font-weight="bold" fill="#f3f4f8" textLength="40.1" lengthAdjust="spacingAndGlyphs" stroke="#f3f4f8" stroke-width="0.45">CPO</text>
<text x="535.5" y="693.5" font-size="6.00" font-weight="normal" fill="#aeb2ca" textLength="76.9" lengthAdjust="spacingAndGlyphs">(cost per opportunity)</text>
<line x1="551.6" y1="705.7" x2="595.8" y2="705.7" stroke="#cdd0e0" stroke-width="2.2"/>
<text x="554.9" y="722.3" font-size="10.64" font-weight="normal" fill="#aeb2ca" textLength="37.3" lengthAdjust="spacingAndGlyphs" >$952.38</text>
<text x="104.9" y="564.0" font-size="16.71" font-weight="bold" fill="#f0fff5" textLength="69.4" lengthAdjust="spacingAndGlyphs" stroke="#f0fff5" stroke-width="0.45">AVERAGE</text>
<text x="121.0" y="578.3" font-size="16.71" font-weight="bold" fill="#f0fff5" textLength="36.4" lengthAdjust="spacingAndGlyphs" stroke="#f0fff5" stroke-width="0.45">SALE</text>
<line x1="117.0" y1="584.8" x2="161.3" y2="584.8" stroke="#b8f3cf" stroke-width="2.2"/>
<text x="128.8" y="599.0" font-size="8.21" font-weight="normal" fill="#9fe8bc" textLength="22.1" lengthAdjust="spacingAndGlyphs" >$70k</text>
<text x="178.2" y="619.9" font-size="16.71" font-weight="bold" fill="#f0fff5" textLength="45.5" lengthAdjust="spacingAndGlyphs" stroke="#f0fff5" stroke-width="0.45">TOTAL</text>
<text x="177.7" y="634.2" font-size="16.71" font-weight="bold" fill="#f0fff5" textLength="46.0" lengthAdjust="spacingAndGlyphs" stroke="#f0fff5" stroke-width="0.45">SALES</text>
<text x="183.4" y="643.5" font-size="5.47" font-weight="normal" fill="#9fe8bc" textLength="33.8" lengthAdjust="spacingAndGlyphs">(revenue)</text>
<line x1="180.3" y1="651.0" x2="223.7" y2="651.0" stroke="#b8f3cf" stroke-width="2.2"/>
<text x="186.0" y="664.0" font-size="8.21" font-weight="normal" fill="#9fe8bc" textLength="33.8" lengthAdjust="spacingAndGlyphs" >$7.35m</text>
<text x="265.3" y="670.6" font-size="16.71" font-weight="bold" fill="#f0fff5" textLength="36.4" lengthAdjust="spacingAndGlyphs" stroke="#f0fff5" stroke-width="0.45">CPS</text>
<text x="257.5" y="678.6" font-size="5.68" font-weight="normal" fill="#9fe8bc" textLength="51.9" lengthAdjust="spacingAndGlyphs">(cost per sale)</text>
<line x1="261.4" y1="691.9" x2="305.6" y2="691.9" stroke="#b8f3cf" stroke-width="2.2"/>
<text x="264.0" y="707.0" font-size="10.00" font-weight="normal" fill="#9fe8bc" textLength="40.3" lengthAdjust="spacingAndGlyphs" >$9523.81</text>
<text x="345.0" y="702.3" font-size="18.00" font-weight="bold" fill="#f0fff5" textLength="54.6" lengthAdjust="spacingAndGlyphs" stroke="#f0fff5" stroke-width="0.45">SALES</text>
<line x1="350.2" y1="718.0" x2="394.0" y2="718.0" stroke="#b8f3cf" stroke-width="2.2"/>
<text x="364.5" y="731.7" font-size="9.36" font-weight="normal" fill="#9fe8bc" textLength="15.5" lengthAdjust="spacingAndGlyphs" >105</text>
<text x="432.2" y="699.4" font-size="15.43" font-weight="bold" fill="#f0fff5" textLength="64.1" lengthAdjust="spacingAndGlyphs" stroke="#f0fff5" stroke-width="0.45">PIPELINE</text>
<text x="432.2" y="713.8" font-size="16.43" font-weight="bold" fill="#f0fff5" textLength="66.2" lengthAdjust="spacingAndGlyphs" stroke="#f0fff5" stroke-width="0.45">GROWTH</text>
<line x1="443.7" y1="724.0" x2="487.3" y2="724.0" stroke="#b8f3cf" stroke-width="2.2"/>
<text x="446.5" y="738.0" font-size="9.36" font-weight="normal" fill="#9fe8bc" textLength="39.3" lengthAdjust="spacingAndGlyphs" >$22.05m</text>
<text x="412.8" y="470.0" font-size="25.43" font-weight="bold" fill="#f2fff7" textLength="75.7" lengthAdjust="spacingAndGlyphs" stroke="#f2fff7" stroke-width="0.45">ROAS</text>
<text x="416.0" y="486.2" font-size="10.71" font-weight="bold" fill="#bff5d5" textLength="68.0" lengthAdjust="spacingAndGlyphs" >(RETURN ON</text>
<text x="419.4" y="500.0" font-size="11.43" font-weight="bold" fill="#bff5d5" textLength="59.1" lengthAdjust="spacingAndGlyphs" >AD SPEND)</text>
<line x1="407.8" y1="506.0" x2="497.4" y2="506.0" stroke="#a9efc4" stroke-width="1.6"/>
<text x="427.7" y="530.8" font-size="18.97" font-weight="normal" fill="#c3f6d8" textLength="54.1" lengthAdjust="spacingAndGlyphs" >635%</text>
<defs>
<path id="arcT" d="M349.92,451.57 A106.5,106.5 0 0,1 550.08,451.57" fill="none"/>
<path id="arcB" d="M550.08,524.43 A106.5,106.5 0 0,1 349.92,524.43" fill="none"/>
</defs>
<text font-size="15" font-weight="bold" fill="#383b4a" stroke="#383b4a" stroke-width="0.35" letter-spacing="1.6"><textPath href="#arcT" startOffset="50%" text-anchor="middle">LEARNING &amp; OPTIMIZATION</textPath></text>
<text font-size="15" font-weight="bold" fill="#383b4a" stroke="#383b4a" stroke-width="0.35" letter-spacing="1.85"><textPath href="#arcB" startOffset="50%" text-anchor="middle">LEARNING &amp; OPTIMIZATION</textPath></text>
<text x="87.3" y="249.5" font-size="17.86" font-weight="bold" fill="#3c415f" textLength="57.9" lengthAdjust="spacingAndGlyphs" stroke="#3c415f" stroke-width="0.8">MEDIA</text>
<text x="77.4" y="271.6" font-size="16.29" font-weight="bold" fill="#3c415f" textLength="78.8" lengthAdjust="spacingAndGlyphs" stroke="#3c415f" stroke-width="0.8">METRICS</text>
<text x="719.2" y="248.9" font-size="17.86" font-weight="bold" fill="#59c98c" textLength="122.0" lengthAdjust="spacingAndGlyphs" stroke="#59c98c" stroke-width="0.8">CONVERSION</text>
<text x="740.2" y="271.6" font-size="17.14" font-weight="bold" fill="#59c98c" textLength="80.0" lengthAdjust="spacingAndGlyphs" stroke="#59c98c" stroke-width="0.8">METRICS</text>
<text x="103.2" y="722.2" font-size="16.86" font-weight="bold" fill="#2fbf6b" textLength="29.9" lengthAdjust="spacingAndGlyphs" stroke="#2fbf6b" stroke-width="0.8">ROI</text>
<text x="79.4" y="746.1" font-size="18.14" font-weight="bold" fill="#2fbf6b" textLength="79.2" lengthAdjust="spacingAndGlyphs" stroke="#2fbf6b" stroke-width="0.8">METRICS</text>
<text x="765.1" y="725.1" font-size="18.14" font-weight="bold" fill="#5c6078" textLength="39.1" lengthAdjust="spacingAndGlyphs" stroke="#5c6078" stroke-width="0.8">CRM</text>
<text x="746.2" y="746.6" font-size="17.71" font-weight="bold" fill="#5c6078" textLength="77.9" lengthAdjust="spacingAndGlyphs" stroke="#5c6078" stroke-width="0.8">METRICS</text>
<rect x="103.4" y="283.6" width="26.3" height="17.8" fill="none" stroke="#3c415f" stroke-width="2"/>
<rect x="98" y="302" width="36.5" height="2.4" fill="#3c415f"/>
<g fill="none" stroke="#59c98c" stroke-width="1.8"><ellipse cx="778.5" cy="289" rx="12.5" ry="2.4"/><path d="M766,289.5 L776,298 L776,306 M791,289.5 L781,298 L781,306"/><line x1="770" y1="293" x2="787" y2="293"/><circle cx="778.5" cy="310.5" r="4.2" fill="#8fe3b3"/></g>
<g fill="#59c98c"><circle cx="767" cy="282" r="1.3"/><circle cx="772.5" cy="281" r="1.1"/><circle cx="779" cy="282.5" r="1.3"/><circle cx="784" cy="281" r="1.1"/><circle cx="789.5" cy="282" r="1.3"/><circle cx="776" cy="286" r="1"/><circle cx="782" cy="286" r="1"/></g>
<g fill="#2fbf6b"><rect x="116.5" y="672.5" width="16" height="3"/><rect x="117.5" y="677" width="15" height="3"/><rect x="117.5" y="681.5" width="15" height="3"/><rect x="118" y="686" width="14.5" height="3"/><rect x="118" y="690.5" width="14.5" height="3"/><rect x="117.5" y="695" width="15" height="2.4"/></g>
<circle cx="112.2" cy="689.4" r="11" fill="#ffffff"/>
<g fill="none" stroke="#2fbf6b" stroke-width="2.4"><circle cx="112.2" cy="689.4" r="9.4"/></g>
<text x="112.2" y="694.2" font-size="13" font-weight="bold" fill="#2fbf6b" stroke="#2fbf6b" stroke-width="0.5" text-anchor="middle">$</text>
<g fill="#5f647e"><path d="M764.5,686 L769,675.5 L774,677.5 L769.5,688.5 Z"/><path d="M804.5,686 L800,675.5 L795,677.5 L799.5,688.5 Z"/><path d="M771.5,681 L779,677.5 L786,679 L791,678 L797,681 L798,687 L789,696 L783,699.5 L776,695 L770.5,688 Z"/></g>
<g stroke="#ffffff" stroke-width="0.9" fill="none" opacity="0.75"><path d="M780,684 L786,680 L790,684 L796,689"/><path d="M775,688 L779,692"/><path d="M778,686 L783,691"/><path d="M781,685 L786,690"/></g>
<text x="206.5" y="207.0" font-size="40.71" font-weight="bold" fill="#151b45" textLength="620.0" lengthAdjust="spacingAndGlyphs" stroke="#151b45" stroke-width="1.1">LEAD GEN METRICS TIMELINE</text>
<g fill="#3fd07f"><rect x="67.2" y="189.5" width="2.6" height="8.5"/><rect x="72.4" y="186.5" width="2.6" height="11.5"/><rect x="77.6" y="184" width="3" height="14"/><rect x="66" y="201" width="15.5" height="2.2"/></g>
<text x="87.5" y="195.2" font-size="15" font-weight="normal" fill="#2b2e45" stroke="#2b2e45" stroke-width="0.7" textLength="100.5" lengthAdjust="spacingAndGlyphs">OVERDRI&gt;E</text>
<text x="89.3" y="204" font-size="7.6" font-weight="bold" fill="#33364a" textLength="81.5" lengthAdjust="spacing">INTERACTIVE</text>
<text x="298.8" y="772" font-size="6.6" font-weight="bold" fill="#4a4c52" textLength="302.7" lengthAdjust="spacing" xml:space="preserve">DRIVE &gt; CAPTURE &gt; CONVERT &gt; OPTIMIZE    |    WWW.OVERDRIVEINTERACTIVE.COM</text>
</svg></body></html>
